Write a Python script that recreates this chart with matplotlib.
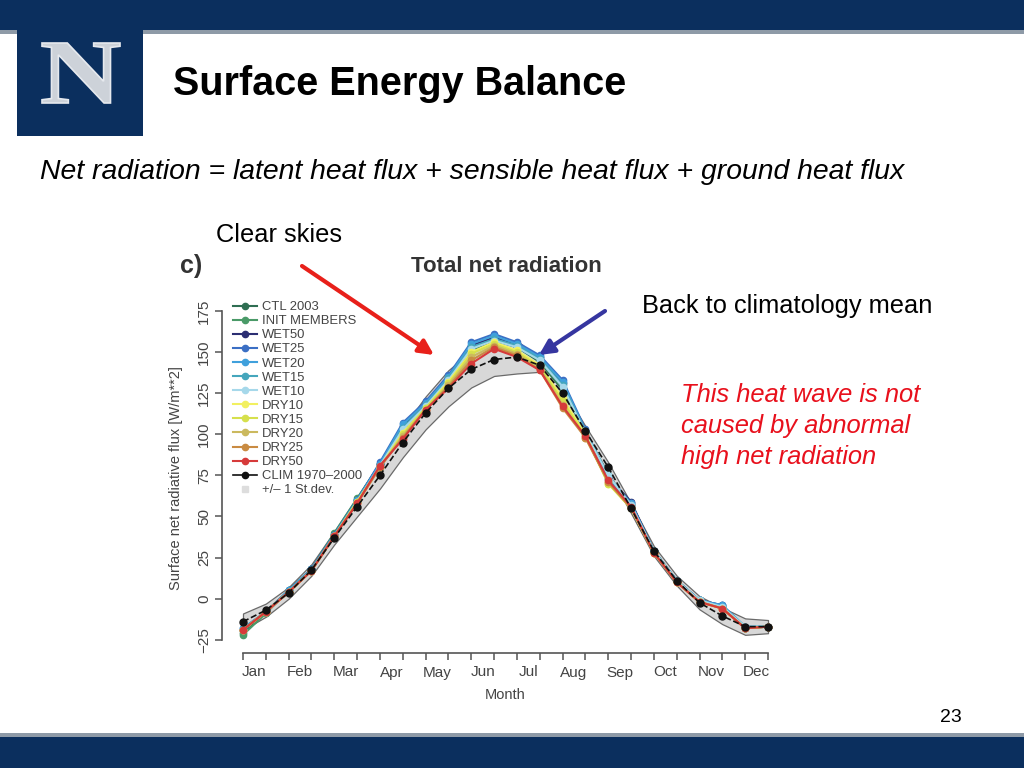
import matplotlib
matplotlib.use('Agg')
import matplotlib.pyplot as plt
import numpy as np
from matplotlib.patches import Rectangle, PathPatch
from matplotlib.textpath import TextPath
from matplotlib.font_manager import FontProperties
from matplotlib.transforms import Affine2D
from matplotlib.lines import Line2D

# ---------------- data ----------------
months = ['Jan', 'Feb', 'Mar', 'Apr', 'May', 'Jun', 'Jul', 'Aug', 'Sep', 'Oct', 'Nov', 'Dec']
yticks = [-25, 0, 25, 50, 75, 100, 125, 150, 175]

clim = [-14, -7, 3.5, 17.5, 37, 56, 75, 95, 113, 128, 139.5, 145.5, 147, 142, 125, 102, 80, 55, 29, 11, -2.5, -10.5, -17, -17]
clim_std = [5, 4, 3.5, 3.5, 4, 6, 8, 9, 10, 11, 11, 10, 10, 4, 3, 3, 3, 3, 3, 3, 4, 5, 5, 4]

ctl2003 = [-21, -8, 5, 18, 39, 60, 82, 102, 118, 133, 151, 157, 153, 144, 127, 101, 75, 57, 29, 11, -1, -5, -18, -17]
init_members = [-22, -9, 5, 18, 40, 61, 82, 103, 118, 134, 152, 158, 153, 145, 128, 101, 75, 57, 29, 11, -1, -5, -18, -17]
wet50 = [-19, -8, 4, 18, 39, 60, 82, 105, 119, 134, 154, 159, 155, 147, 131, 102, 74, 59, 29, 11, -1, -4, -18, -17]
wet25 = [-18, -8, 5, 18, 39, 60, 83, 107, 120, 136, 156, 161, 156, 148, 133, 103, 73, 58, 29, 11, -1, -4, -18, -17]
wet20 = [-18, -8, 5, 18, 39, 60, 82, 106, 119, 135, 155, 160, 155, 147, 132, 102, 74, 58, 29, 11, -1, -4, -17, -17]
wet15 = [-19, -8, 4, 17, 38, 59, 81, 104, 118, 134, 153, 158, 154, 146, 130, 102, 75, 57, 29, 11, -1, -5, -17, -17]
wet10 = [-19, -8, 4, 17, 38, 59, 81, 103, 117, 133, 152, 157, 153, 145, 129, 101, 75, 57, 29, 11, -1, -5, -17, -17]
dry10 = [-19, -8, 4, 17, 38, 59, 80, 101, 116, 132, 150, 156, 151, 142, 122, 100, 70, 55, 28, 10, -2, -6, -18, -17]
dry15 = [-19, -8, 4, 17, 38, 59, 80, 100, 116, 131, 149, 155, 150, 141, 120, 99, 70, 55, 28, 10, -2, -6, -18, -17]
dry20 = [-19, -8, 4, 17, 38, 58, 80, 99, 115, 130, 147, 154, 149, 140, 118, 98, 71, 55, 28, 10, -2, -6, -18, -17]
dry25 = [-19, -8, 4, 17, 38, 58, 80, 98, 115, 129, 145, 153, 148, 139, 116, 98, 71, 55, 28, 10, -2, -6, -18, -17]
dry50 = [-19, -8, 4, 17, 38, 58, 81, 97, 115, 128, 143, 152, 147, 139, 117, 99, 72, 56, 28, 10, -2, -6, -18, -17]

series = [
    ('CTL 2003', ctl2003, '#2f6e52'),
    ('INIT MEMBERS', init_members, '#4a9a68'),
    ('WET50', wet50, '#2b2e72'),
    ('WET25', wet25, '#3b6fc4'),
    ('WET20', wet20, '#3fa0dc'),
    ('WET15', wet15, '#45a6bc'),
    ('WET10', wet10, '#a6d8ea'),
    ('DRY10', dry10, '#f2f060'),
    ('DRY15', dry15, '#d6e04c'),
    ('DRY20', dry20, '#cbb95e'),
    ('DRY25', dry25, '#c98b42'),
    ('DRY50', dry50, '#d63a3a'),
]

W, H = 1024, 768
NAVY = '#0b2f5e'
GREYLINE = '#8e9aa7'
TXT = '#444444'

fig = plt.figure(figsize=(10.24, 7.68), dpi=100)
fig.patch.set_facecolor('white')

def fx(px):
    return px / W

def fy(py):
    return 1 - py / H

# ---------------- chart ----------------
ax_l, ax_r, ax_b, ax_t = 222, 789, 653, 302.8
ax = fig.add_axes([fx(ax_l), fy(ax_b), (ax_r - ax_l) / W, (ax_b - ax_t) / H])
ax.set_facecolor('white')
x = np.arange(len(clim))
clim_a = np.array(clim)
std_a = np.array(clim_std)

ax.fill_between(x, clim_a - std_a, clim_a + std_a, facecolor='#d8d8d8',
                edgecolor='#6a6a6a', linewidth=0.9, zorder=1)
for name, vals, col in series:
    ax.plot(x, vals, color=col, lw=1.5, marker='o', ms=4.5, mec=col, mfc=col, zorder=2)
ax.plot(x, clim, color='#111111', lw=1.2, ls='--', marker='o', ms=5,
        mfc='#111111', mec='#111111', zorder=3)

ax.set_xlim(-0.92, 23.92)
ax.set_ylim(-33.05, 180)
for s in ['top', 'right']:
    ax.spines[s].set_visible(False)
for s in ['left', 'bottom']:
    ax.spines[s].set_color('#555555')
    ax.spines[s].set_linewidth(1.2)
ax.spines['left'].set_bounds(-25, 175)
ax.spines['bottom'].set_bounds(0, 23)

ax.set_xticks(x)
ax.set_xticklabels([])
ax.set_xticks(np.arange(12) * 2 + 0.5, minor=True)
ax.set_xticklabels(months, minor=True)
ax.tick_params(axis='x', which='major', length=5, width=1.1, color='#555555', direction='out')
ax.tick_params(axis='x', which='minor', length=0, pad=9, labelsize=11, labelcolor=TXT)
ax.set_yticks(yticks)
ax.set_yticklabels([str(v).replace('-', '\u2212') for v in yticks], rotation=90, va='center')
ax.tick_params(axis='y', length=5, width=1.1, color='#555555', direction='out',
               labelsize=11, labelcolor=TXT, pad=3)
for lab in ax.get_xticklabels(minor=True) + ax.get_yticklabels():
    lab.set_family('Liberation Sans')

ax.set_ylabel('Surface net radiative flux [W/m**2]', fontsize=10.5, color=TXT,
              family='Liberation Sans')
ax.yaxis.set_label_coords(-0.069, 0.5)
ax.set_xlabel('Month', fontsize=10.5, color=TXT, family='Liberation Sans')
ax.xaxis.set_label_coords(0.5, -0.1)

handles = [Line2D([0], [0], color=c, lw=1.5, marker='o', ms=4.5, mfc=c, mec=c)
           for _, _, c in series]
labels = [n for n, _, _ in series]
handles.append(Line2D([0], [0], color='#111111', lw=1.2, marker='o', ms=4.5))
labels.append('CLIM 1970\u20132000')
handles.append(Line2D([0], [0], color='none', marker='s', ms=4, mfc='#dddddd', mec='#dddddd'))
labels.append('+/\u2013 1 St.dev.')
leg = ax.legend(handles, labels, loc='upper left', bbox_to_anchor=(fx(233), fy(301)),
                bbox_transform=fig.transFigure, frameon=False, borderaxespad=0,
                borderpad=0, handlelength=1.8, handletextpad=0.4, labelspacing=0.15,
                prop=FontProperties(family='Liberation Sans', size=9.4))
for t in leg.get_texts():
    t.set_color(TXT)

# ---------------- slide overlay ----------------
ov = fig.add_axes([0, 0, 1, 1], zorder=10)
ov.set_xlim(0, W)
ov.set_ylim(H, 0)
ov.axis('off')
ov.patch.set_alpha(0)

ov.add_patch(Rectangle((0, 0), W, 30, facecolor=NAVY, edgecolor='none'))
ov.add_patch(Rectangle((0, 30), W, 3.5, facecolor=GREYLINE, edgecolor='none'))
ov.add_patch(Rectangle((17, 30), 126, 106, facecolor=NAVY, edgecolor='none'))
ov.add_patch(Rectangle((0, 733), W, 3.5, facecolor=GREYLINE, edgecolor='none'))
ov.add_patch(Rectangle((0, 736.5), W, 32, facecolor=NAVY, edgecolor='none'))

# logo letter
tp = TextPath((0, 0), 'N', size=100, prop=FontProperties(family='Liberation Serif', weight='bold'))
ext = tp.get_extents()
tr = (Affine2D().translate(-ext.x0, -ext.y0)
      .scale(78 / ext.width, -60 / ext.height).translate(42, 103))
ov.add_patch(PathPatch(tr.transform_path(tp), facecolor='#cdd2d9', edgecolor='#e6e9ee', lw=1.2))

sans = 'Liberation Sans'
ov.text(173, 84, 'Surface Energy Balance', fontsize=28.5, fontweight='bold', family=sans,
        va='center', ha='left', color='black')
ov.text(40, 172, 'Net radiation = latent heat flux + sensible heat flux + ground heat flux',
        fontsize=20.4, style='italic', family=sans, va='center', ha='left', color='black')
ov.text(216, 235, 'Clear skies', fontsize=18.3, family=sans, va='center', ha='left', color='black')
ov.text(642, 306, 'Back to climatology mean', fontsize=18.3, family=sans, va='center',
        ha='left', color='black')
for i, line in enumerate(['This heat wave is not', 'caused by abnormal', 'high net radiation']):
    ov.text(681, 395 + 31 * i, line, fontsize=18.4, style='italic', family=sans,
            va='center', ha='left', color='#e8101c')
ov.text(951, 718, '23', fontsize=14, family=sans, va='center', ha='center', color='black')

ov.text(180, 266, 'c)', fontsize=18, fontweight='bold', family=sans, va='center',
        ha='left', color='#333333')
ov.text(506, 267, 'Total net radiation', fontsize=16, fontweight='bold', family=sans,
        va='center', ha='center', color='#333333')

ov.annotate('', xy=(434, 355), xytext=(302, 266),
            arrowprops=dict(arrowstyle='-|>', color='#e8201a', lw=3, mutation_scale=22,
                            shrinkA=0, shrinkB=0))
ov.annotate('', xy=(539, 355), xytext=(605, 311),
            arrowprops=dict(arrowstyle='-|>', color='#3636a0', lw=3, mutation_scale=22,
                            shrinkA=0, shrinkB=0))

fig.savefig('out.png', dpi=100, facecolor='white')
